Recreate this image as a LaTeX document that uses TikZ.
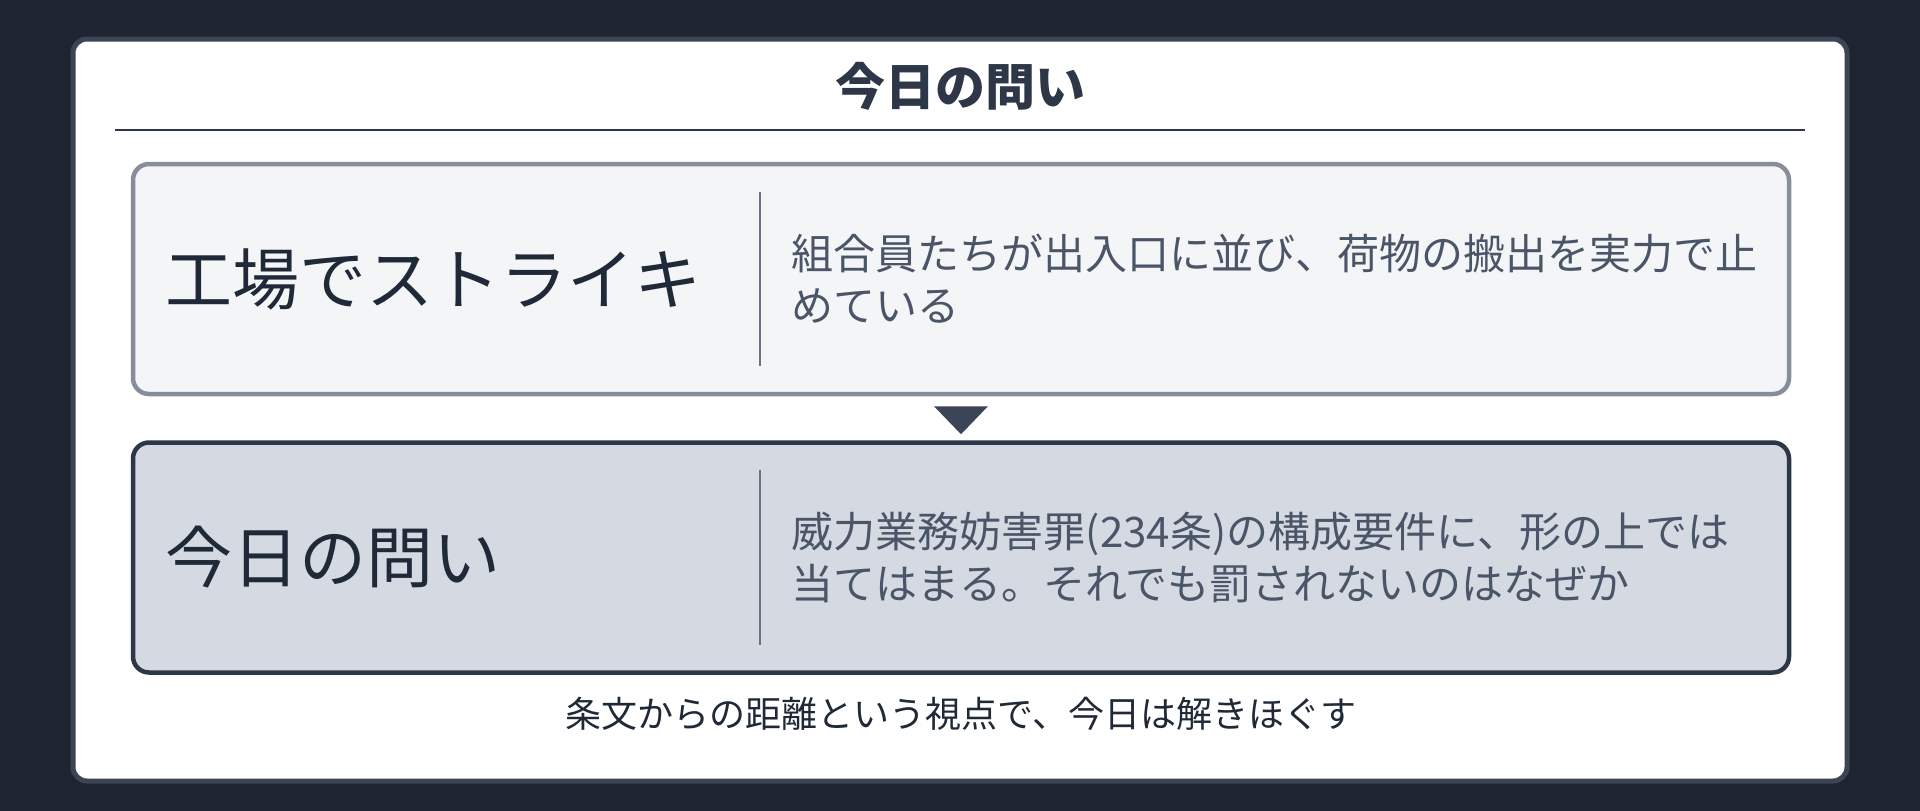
\documentclass[tikz,border=0pt]{standalone}
\usepackage{fontspec}
\setmainfont{Noto Sans CJK JP}
\usepackage{xcolor}
\usetikzlibrary{positioning,calc}

\definecolor{pagebg}{HTML}{1E2530}
\definecolor{cardline}{HTML}{3B4556}
\definecolor{inkdark}{HTML}{1F2937}
\definecolor{inktitle}{HTML}{2D3748}
\definecolor{inkmid}{HTML}{4A5568}
\definecolor{paleface}{HTML}{F4F5F7}
\definecolor{paleline}{HTML}{868E9B}
\definecolor{greyface}{HTML}{D5DAE2}
\definecolor{sepline}{HTML}{6B7280}

\begin{document}
\begin{tikzpicture}[x=1pt, y=-1pt,
    rowbox/.style={minimum width=1656pt, minimum height=230pt, rounded corners=16pt, line width=4.5pt},
    headword/.style={font=\fontsize{67}{80}\selectfont, text=inkdark, inner sep=0pt},
    gloss/.style={font=\fontsize{42}{52}\selectfont, text=inkmid, inner sep=0pt, align=left},
    sepbar/.style={sepline, line width=2.5pt}]
    \fill[pagebg] (0,0) rectangle (1920,811);
    \useasboundingbox (0,0) rectangle (1920,811);

    % Card
    \draw[cardline, line width=5pt, fill=white, rounded corners=14pt] (73,39) rectangle (1847,781);
    \node[font=\fontsize{50}{60}\selectfont\bfseries, text=inktitle, inner sep=0pt] (title) at (960,86) {今日の問い};
    \draw[inktitle, line width=2.5pt] (115,130) -- (1805,130);

    % Scene row
    \node[rowbox, draw=paleline, fill=paleface] (strike) at (961,279) {};
    \node[headword, right=35pt of strike.west] (strikehead) {工場でストライキ};
    \draw[sepbar] ($(strike.north)+(-201,30)$) -- ($(strike.south)+(-201,-30)$);
    \node[gloss, right=661pt of strike.west] (strikegloss) {組合員たちが出入口に並び、荷物の搬出を実力で止\\めている};

    % Down marker
    \fill[cardline] ($(strike.south)+(-27,10)$) -- ($(strike.south)+(27,10)$) -- ($(strike.south)+(0,38)$) -- cycle;

    % Question row
    \node[rowbox, draw=inktitle, fill=greyface, below=44pt of strike] (question) {};
    \node[headword, right=35pt of question.west] (questionhead) {今日の問い};
    \draw[sepbar] ($(question.north)+(-201,30)$) -- ($(question.south)+(-201,-30)$);
    \node[gloss, right=661pt of question.west] (questiongloss) {威力業務妨害罪(234条)の構成要件に、形の上では\\当てはまる。それでも罰されないのはなぜか};

    \node[font=\fontsize{36}{43}\selectfont, text=inkdark, inner sep=0pt] (closing) at ($(question.south)+(0,39)$) {条文からの距離という視点で、今日は解きほぐす};
\end{tikzpicture}
\end{document}
